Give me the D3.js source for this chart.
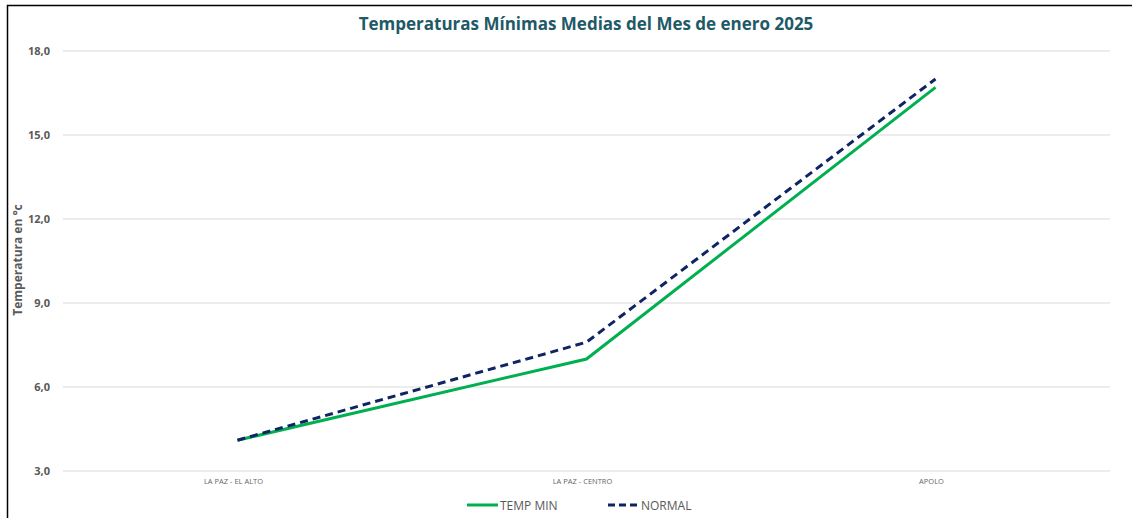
<!doctype html>
<html>
<head>
  <meta charset="utf-8">
  <style>
    body { margin: 0; background: #fff; }
    svg { font-family: "Open Sans", "Noto Sans", sans-serif; }
  </style>
  <script src="https://d3js.org/d3.v7.min.js"></script>
</head>
<body>
<svg width="1132" height="518"></svg>
<script>
  var categories = ["LA PAZ - EL ALTO", "LA PAZ - CENTRO", "APOLO"];
  var tempMin = [4.1, 7.0, 16.7];
  var normal = [4.1, 7.6, 17.0];
  var yTicks = [3, 6, 9, 12, 15, 18];

  var svg = d3.select("svg");
  var plotLeft = 63, plotRight = 1110, plotTop = 51, plotBottom = 471;

  // frame
  svg.append("path")
    .attr("d", "M7.5,518 V5.5 H1132")
    .attr("fill", "none")
    .attr("stroke", "#000")
    .attr("stroke-width", 1.5);

  svg.append("text")
    .attr("x", 586)
    .attr("y", 30)
    .attr("text-anchor", "middle")
    .attr("font-size", "17px")
    .attr("font-weight", "bold")
    .attr("fill", "#215967")
    .text("Temperaturas  Mínimas Medias del Mes de enero 2025");

  var xScale = d3.scaleBand().domain(categories).range([plotLeft, plotRight]);
  var yScale = d3.scaleLinear().domain([3, 18]).range([plotBottom, plotTop]);

  // grid
  svg.append("g")
    .selectAll("line")
    .data(yTicks)
    .enter().append("line")
    .attr("x1", plotLeft)
    .attr("x2", plotRight)
    .attr("y1", function (d) { return yScale(d); })
    .attr("y2", function (d) { return yScale(d); })
    .attr("stroke", "#d9d9d9")
    .attr("stroke-width", 1);

  var yAxis = svg.append("g")
    .attr("transform", "translate(" + (plotLeft - 10) + ",0)")
    .call(d3.axisLeft(yScale).tickValues(yTicks).tickSize(0)
      .tickFormat(function (d) { return d3.format(".1f")(d).replace(".", ","); }));
  yAxis.select(".domain").remove();
  yAxis.selectAll("text")
    .attr("fill", "#595959")
    .attr("font-size", "11px")
    .attr("font-weight", "bold")
    .attr("font-family", "\"Open Sans\", sans-serif");

  var xAxis = svg.append("g")
    .attr("transform", "translate(0," + plotBottom + ")")
    .call(d3.axisBottom(xScale).tickSize(0).tickPadding(8));
  xAxis.select(".domain").remove();
  xAxis.selectAll("text")
    .attr("fill", "#666")
    .attr("font-size", "7.5px")
    .attr("font-family", "\"Open Sans\", sans-serif")
    .attr("dx", -4);

  svg.append("text")
    .attr("transform", "translate(22,260) rotate(-90)")
    .attr("text-anchor", "middle")
    .attr("font-size", "12px")
    .attr("font-weight", "bold")
    .attr("fill", "#595959")
    .text("Temperatura en °c");

  var line = function (vals) {
    return d3.line()
      .x(function (d, i) { return xScale(categories[i]) + xScale.bandwidth() / 2; })
      .y(function (d) { return yScale(d); })(vals);
  };

  svg.append("path")
    .attr("d", line(tempMin))
    .attr("fill", "none")
    .attr("stroke", "#00B050")
    .attr("stroke-width", 3);

  svg.append("path")
    .attr("d", line(normal))
    .attr("fill", "none")
    .attr("stroke", "#0F2463")
    .attr("stroke-width", 3)
    .attr("stroke-dasharray", "8,5");

  // legend
  var legend = [
    { name: "TEMP MIN", color: "#00B050", dash: null, x: 467 },
    { name: "NORMAL", color: "#0F2463", dash: "7,4", x: 608 }
  ];
  var lg = svg.append("g").selectAll("g").data(legend).enter().append("g")
    .attr("transform", function (d) { return "translate(" + d.x + ",505)"; });
  lg.append("line")
    .attr("x1", 0).attr("x2", 31)
    .attr("stroke", function (d) { return d.color; })
    .attr("stroke-width", 3)
    .attr("stroke-dasharray", function (d) { return d.dash; });
  lg.append("text")
    .attr("x", 33)
    .attr("y", 5)
    .attr("font-size", "12px")
    .attr("fill", "#595959")
    .text(function (d) { return d.name; });
</script>
</body>
</html>
